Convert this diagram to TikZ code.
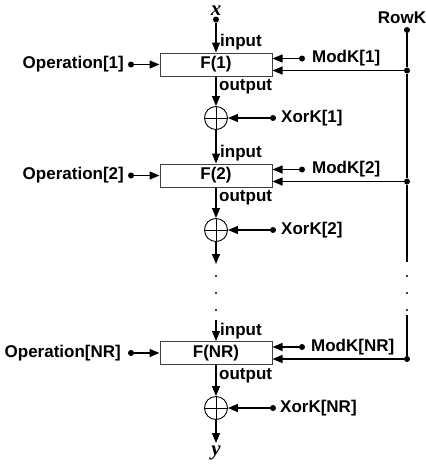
\documentclass[tikz,border=0pt]{standalone}
\usepackage{fontspec}
\setmainfont{Liberation Sans}
\newfontfamily\varfont{Liberation Serif}
\usetikzlibrary{arrows.meta}
\begin{document}
\begin{tikzpicture}[x=1pt,y=-1pt,
  lbl/.style={font=\fontsize{17}{18}\selectfont\bfseries, inner sep=0pt},
  var/.style={font=\fontsize{21}{22}\varfont\bfseries\itshape, inner sep=0pt},
  fbox/.style={draw=black!75, line width=1pt, minimum width=112pt, minimum height=23pt, inner sep=0pt, font=\fontsize{17}{18}\selectfont\bfseries},
  xorc/.style={draw, circle, line width=0.9pt, minimum size=23pt, inner sep=0pt},
  dotn/.style={circle, fill, inner sep=0pt, minimum size=6pt},
  sdot/.style={circle, fill, inner sep=0pt, minimum size=2.2pt},
  conn/.style={line width=1.2pt},
  arr/.style={conn, -{Triangle[length=10pt,width=8pt]}},
]
\useasboundingbox (0,0) rectangle (426,464);

% main chain
\node[var] (xl) at (216,11) {x};
\node[dotn] (xd) at (216,19.5) {};
\node[fbox] (f1) at (216,64.5) {F(1)};
\node[xorc] (x1) at (216,118) {};
\node[fbox] (f2) at (216,175.5) {F(2)};
\node[xorc] (x2) at (216,230) {};
\coordinate (e2) at (216,264);
\node[sdot] (d1) at (216,276) {};
\node[sdot] (d2) at (216,293) {};
\node[sdot] (d3) at (216,310) {};
\coordinate (sN) at (216,320);
\node[fbox] (fN) at (216,353) {F(NR)};
\node[xorc] (xN) at (216,408) {};
\coordinate (eN) at (216,443);
\node[var] (yl) at (216,453) {y};

\foreach \c in {x1,x2,xN}{
  \draw[line width=0.9pt] (\c.north) -- (\c.south) (\c.west) -- (\c.east);
}

\draw[arr] (xd) -- (f1.north);
\draw[arr] (f1.south) -- (x1.north);
\draw[arr] (x1.south) -- (f2.north);
\draw[arr] (f2.south) -- (x2.north);
\draw[arr] (x2.south) -- (e2);
\draw[arr] (sN) -- (fN.north);
\draw[arr] (fN.south) -- (xN.north);
\draw[arr] (xN.south) -- (eN);

% input / output labels
\node[lbl, anchor=west] (in1) at (220,42) {input};
\node[lbl, anchor=west] (ou1) at (219,87) {output};
\node[lbl, anchor=west] (in2) at (220,153) {input};
\node[lbl, anchor=west] (ou2) at (219,198) {output};
\node[lbl, anchor=west] (inN) at (220,331) {input};
\node[lbl, anchor=west] (ouN) at (219,376) {output};

% operations
\node[lbl, anchor=east] (op1) at (124,64.5) {Operation[1]};
\node[dotn] (op1d) at (131,64.5) {};
\draw[arr] (op1d) -- (f1.west);
\node[lbl, anchor=east] (op2) at (124,175.5) {Operation[2]};
\node[dotn] (op2d) at (131,175.5) {};
\draw[arr] (op2d) -- (f2.west);
\node[lbl, anchor=east] (opN) at (121,353) {Operation[NR]};
\node[dotn] (opNd) at (131,353) {};
\draw[arr] (opNd) -- (fN.west);

% ModK
\node[dotn] (m1d) at (302,58.5) {};
\node[lbl, anchor=west] (m1) at (312,58.5) {ModK[1]};
\draw[arr] (m1d) -- (f1.east |- m1d);
\node[dotn] (m2d) at (302,169.5) {};
\node[lbl, anchor=west] (m2) at (312,169.5) {ModK[2]};
\draw[arr] (m2d) -- (f2.east |- m2d);
\node[dotn] (mNd) at (302,347) {};
\node[lbl, anchor=west] (mN) at (311,347) {ModK[NR]};
\draw[arr] (mNd) -- (fN.east |- mNd);

% XorK
\node[dotn] (k1d) at (273,118) {};
\node[lbl, anchor=west] (k1) at (281,118) {XorK[1]};
\draw[arr] (k1d) -- (x1.east);
\node[dotn] (k2d) at (273,230) {};
\node[lbl, anchor=west] (k2) at (281,230) {XorK[2]};
\draw[arr] (k2d) -- (x2.east);
\node[dotn] (kNd) at (273,408) {};
\node[lbl, anchor=west] (kN) at (280,408) {XorK[NR]};
\draw[arr] (kNd) -- (xN.east);

% RowK
\node[lbl] (rk) at (402,18) {RowK};
\node[dotn] (rkd) at (407,30) {};
\node[dotn] (r1) at (407,70.5) {};
\node[dotn] (r2) at (407,181.5) {};
\coordinate (re) at (407,262);
\node[sdot] (rd1) at (407,276) {};
\node[sdot] (rd2) at (407,293) {};
\node[sdot] (rd3) at (407,310) {};
\coordinate (rs) at (407,315);
\node[dotn] (rN) at (407,359) {};
\draw[conn] (rkd) -- (r1) -- (r2) -- (re);
\draw[conn] (rs) -- (rN);
\draw[arr] (r1) -- (f1.east |- r1);
\draw[arr] (r2) -- (f2.east |- r2);
\draw[arr] (rN) -- (fN.east |- rN);
\end{tikzpicture}
\end{document}
